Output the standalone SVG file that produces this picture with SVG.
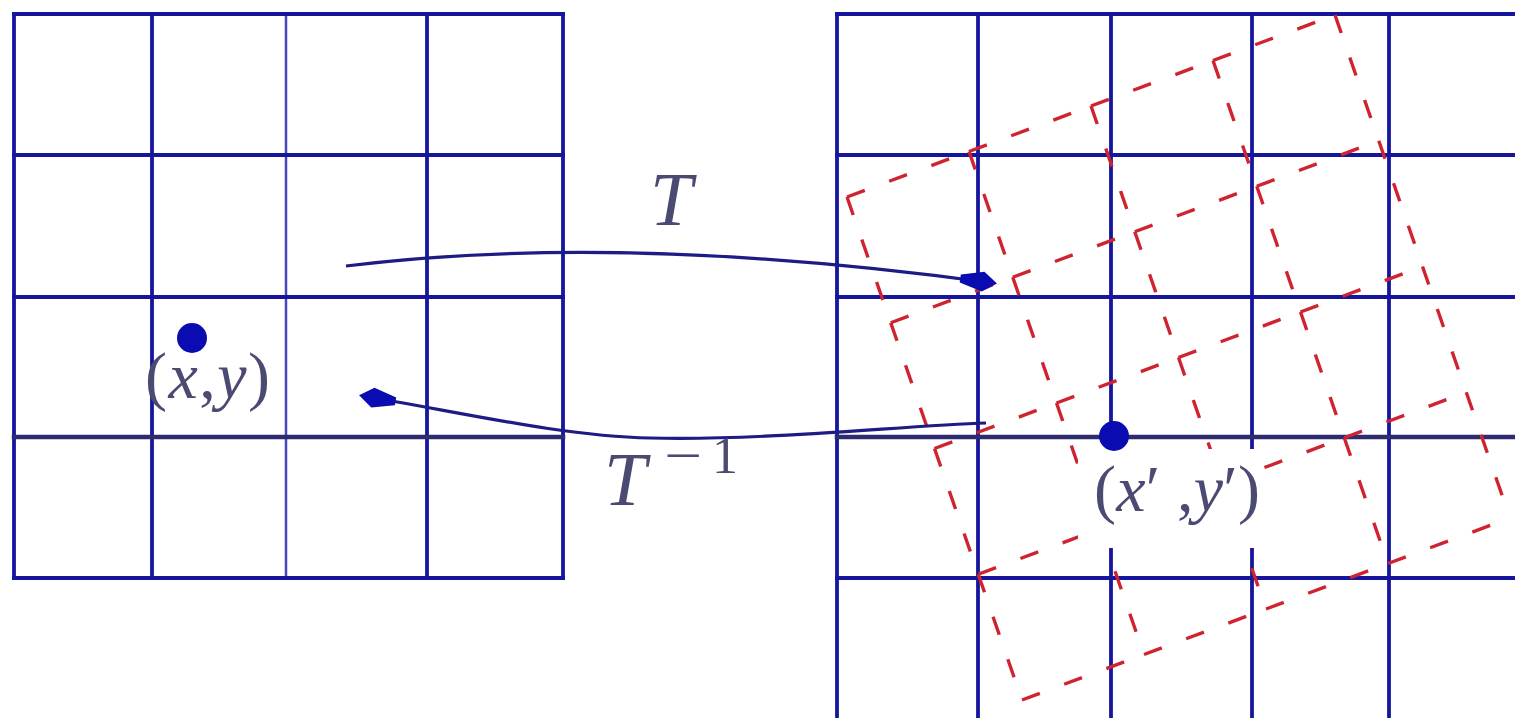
<svg xmlns="http://www.w3.org/2000/svg" width="1515" height="718" viewBox="0 0 1515 718">
  <style>
    .grid { stroke: #16169c; stroke-width: 3.8; fill: none; stroke-linecap: square; }
    .thin { stroke: #4646c0; stroke-width: 2.5; }
    .dark { stroke: #2c2c6e; stroke-width: 4.5; }
    .red { stroke: #cf2430; stroke-width: 3.4; fill: none; stroke-dasharray: 19 26; }
    .conn { stroke: #1c1c84; stroke-width: 3.2; fill: none; }
    .lbl { font-family: "Liberation Serif", "Times New Roman", serif; fill: #4a4a72; }
    .it { font-style: italic; }
    .dot { fill: #0b0bb2; }
  </style>
  <defs>
    <marker id="head" markerUnits="userSpaceOnUse" markerWidth="44" markerHeight="26" refX="0" refY="0" viewBox="-38 -13 44 26" orient="auto" overflow="visible">
      <path d="M4,0 L-10,-10 L-33,-4 L-33,4 L-10,10 Z" fill="#0b0bb2"/>
    </marker>
  </defs>
  <rect x="0" y="0" width="1515" height="718" fill="#ffffff"/>

  <g id="left-grid">
    <line class="grid" x1="14" y1="14" x2="14" y2="578"/>
    <line class="grid" x1="152" y1="14" x2="152" y2="578"/>
    <line class="grid thin" x1="286" y1="14" x2="286" y2="578"/>
    <line class="grid" x1="427" y1="14" x2="427" y2="578"/>
    <line class="grid" x1="563" y1="14" x2="563" y2="578"/>
    <line class="grid" x1="14" y1="14" x2="563" y2="14"/>
    <line class="grid" x1="14" y1="155" x2="563" y2="155"/>
    <line class="grid" x1="14" y1="297" x2="563" y2="297"/>
    <line class="grid dark" x1="14" y1="437" x2="563" y2="437"/>
    <line class="grid" x1="14" y1="578" x2="563" y2="578"/>
  </g>

  <g id="right-grid">
    <line class="grid" x1="837" y1="14" x2="837" y2="720"/>
    <line class="grid" x1="978" y1="14" x2="978" y2="720"/>
    <line class="grid" x1="1111" y1="14" x2="1111" y2="720"/>
    <line class="grid" x1="1252" y1="14" x2="1252" y2="720"/>
    <line class="grid" x1="1389" y1="14" x2="1389" y2="720"/>
    <line class="grid" x1="837" y1="14" x2="1517" y2="14"/>
    <line class="grid" x1="837" y1="155" x2="1517" y2="155"/>
    <line class="grid" x1="837" y1="297" x2="1517" y2="297"/>
    <line class="grid dark" x1="837" y1="437" x2="1517" y2="437"/>
    <line class="grid" x1="837" y1="578" x2="1517" y2="578"/>
  </g>

  <g id="rotated-grid">
    <path class="red" d="M847,197 L969,151.5 M969,151.5 L1091,106 M1091,106 L1213,60.5 M1213,60.5 L1335,15"/>
    <path class="red" d="M890.75,322.75 L1012.75,277.25 M1012.75,277.25 L1134.75,231.75 M1134.75,231.75 L1256.75,186.25 M1256.75,186.25 L1378.75,140.75"/>
    <path class="red" d="M934.5,448.5 L1056.5,403 M1056.5,403 L1178.5,357.5 M1178.5,357.5 L1300.5,312 M1300.5,312 L1422.5,266.5"/>
    <path class="red" d="M978.25,574.25 L1100.25,528.75 M1100.25,528.75 L1222.25,483.25 M1222.25,483.25 L1344.25,437.75 M1344.25,437.75 L1466.25,392.25"/>
    <path class="red" d="M1022,700 L1144,654.5 M1144,654.5 L1266,609 M1266,609 L1388,563.5 M1388,563.5 L1510,518"/>
    <path class="red" d="M847,197 L890.75,322.75 M890.75,322.75 L934.5,448.5 M934.5,448.5 L978.25,574.25 M978.25,574.25 L1022,700"/>
    <path class="red" d="M969,151.5 L1012.75,277.25 M1012.75,277.25 L1056.5,403 M1056.5,403 L1100.25,528.75 M1100.25,528.75 L1144,654.5"/>
    <path class="red" d="M1091,106 L1134.75,231.75 M1134.75,231.75 L1178.5,357.5 M1178.5,357.5 L1222.25,483.25 M1222.25,483.25 L1266,609"/>
    <path class="red" d="M1213,60.5 L1256.75,186.25 M1256.75,186.25 L1300.5,312 M1300.5,312 L1344.25,437.75 M1344.25,437.75 L1388,563.5"/>
    <path class="red" d="M1335,15 L1378.75,140.75 M1378.75,140.75 L1422.5,266.5 M1422.5,266.5 L1466.25,392.25 M1466.25,392.25 L1510,518"/>
  </g>

  <g id="point-xy">
    <circle class="dot" cx="192" cy="338" r="15"/>
    <text class="lbl" x="145" y="398" font-size="66" textLength="125" lengthAdjust="spacing">(<tspan class="it">x</tspan>,<tspan class="it">y</tspan>)</text>
  </g>

  <g id="point-xy-prime">
    <rect x="1078" y="449" width="186" height="99" fill="#ffffff"/>
    <circle class="dot" cx="1114" cy="436" r="15"/>
    <text class="lbl" x="1094" y="511" font-size="66" textLength="166" lengthAdjust="spacing">(<tspan class="it">x</tspan>′ ,<tspan class="it">y</tspan>′)</text>
  </g>

  <g id="connectors">
    <path class="conn" d="M346,266 Q620,232 993,283" marker-end="url(#head)"/>
    <path class="conn" d="M986,423 C900,426 760,441 650,438 C560,436 460,412 363,396" marker-end="url(#head)"/>
    <text class="lbl it" x="650" y="225" font-size="76">T</text>
    <text class="lbl it" x="604" y="505" font-size="76">T</text>
    <text class="lbl" x="664" y="473" font-size="52" textLength="38" lengthAdjust="spacingAndGlyphs">−</text>
    <text class="lbl" x="712" y="473" font-size="52">1</text>
  </g>
</svg>
